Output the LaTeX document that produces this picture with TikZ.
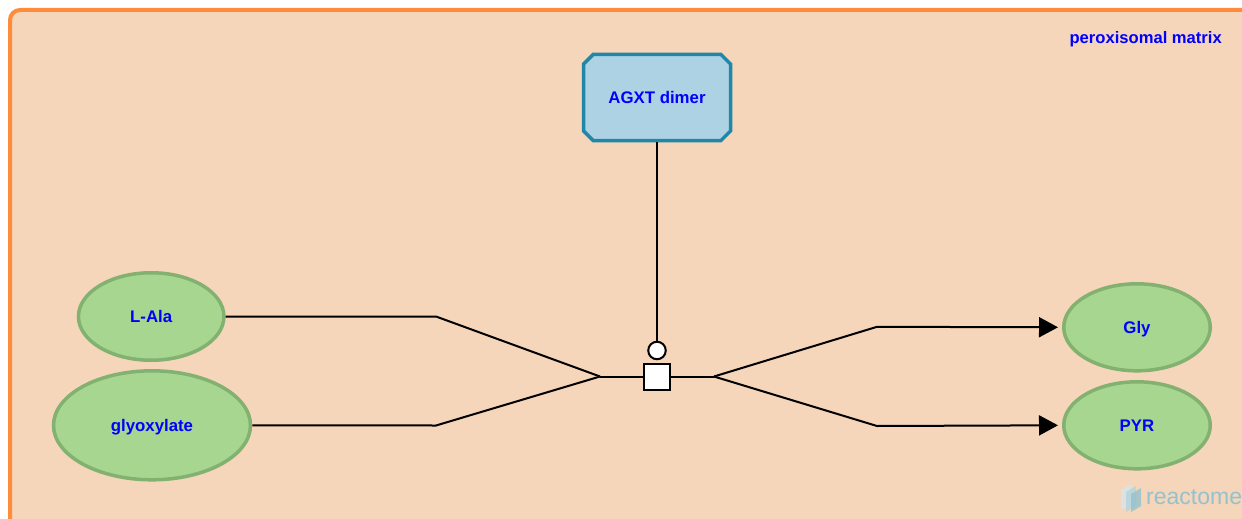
\documentclass[tikz,border=0pt]{standalone}
\usepackage{fontspec}
\setmainfont{Liberation Sans}
\usetikzlibrary{shapes.geometric,shapes.misc,arrows.meta}
\definecolor{compfill}{HTML}{F5D6BA}
\definecolor{compline}{HTML}{FF8C3A}
\definecolor{entfill}{HTML}{A6D690}
\definecolor{entline}{HTML}{82B170}
\definecolor{cxfill}{HTML}{ADD2E4}
\definecolor{cxline}{HTML}{2187A8}
\definecolor{lbl}{HTML}{0000FF}
\definecolor{logotxt}{HTML}{93C2CE}
\begin{document}
\begin{tikzpicture}[x=1pt,y=-1pt,
  lab/.style={font=\fontsize{16.8}{18}\selectfont\bfseries, text=lbl, text height=12pt, text depth=0pt},
  chem/.style={ellipse, draw=entline, fill=entfill, line width=3.5pt, inner sep=0pt, lab},
  cplx/.style={chamfered rectangle, chamfered rectangle xsep=14pt, draw=cxline, fill=cxfill, line width=3.5pt, inner sep=0pt, lab},
  conn/.style={draw=black, line width=2pt},
  prod/.style={conn, -{Triangle[length=19pt,width=20pt]}, shorten >=4pt},
  rxnbox/.style={rectangle, draw=black, fill=white, line width=2pt, minimum size=26pt, inner sep=0pt},
  catcirc/.style={circle, draw=black, fill=white, line width=2pt, minimum size=17.5pt, inner sep=0pt},
  comptitle/.style={lab, anchor=east, inner sep=0pt, font=\fontsize{16.6}{18}\selectfont\bfseries}
]
\useasboundingbox (0,0) rectangle (1242,519);
\clip (0,0) rectangle (1242,519);
\fill[white] (0,0) rectangle (1242,519);
% compartment
\draw[draw=compline, fill=compfill, line width=4pt, rounded corners=10pt] (10,10) rectangle (1265,545);
\node[comptitle] (title) at (1222,37.5) {peroxisomal matrix};

% entities
\node[cplx, minimum width=147pt, minimum height=86pt] (agxt) at (657,97.5) {AGXT dimer};
\node[chem, minimum width=145.5pt, minimum height=87.5pt] (lala) at (151.2,316.5) {L-Ala};
\node[chem, minimum width=197pt, minimum height=109pt] (glyox) at (152,425.3) {glyoxylate};
\node[chem, minimum width=146.5pt, minimum height=87pt] (gly) at (1137,327.3) {Gly};
\node[chem, minimum width=146.5pt, minimum height=87pt] (pyr) at (1137,425.3) {PYR};

% reaction
\node[rxnbox] (rxn) at (657,376.5) {};
\node[catcirc] (cat) at (657,350.5) {};
\coordinate (inbendA) at (436,316.5);
\coordinate (inbendB) at (436,425.5);
\coordinate (inpt) at (600,376.5);
\coordinate (outpt) at (714,376.5);
\coordinate (outbendA) at (877,326.8);
\coordinate (outbendB) at (877,426);

\draw[conn] (lala.east) -- (inbendA) -- (inpt);
\draw[conn] (glyox.east) -- (inbendB) -- (inpt);
\draw[conn] (inpt) -- (rxn.west);
\draw[conn] (rxn.east) -- (outpt);
\draw[prod] (outpt) -- (outbendA) -- (gly.west);
\draw[prod] (outpt) -- (outbendB) -- (pyr.west);
\draw[conn] (agxt.south) -- (cat.north);

% logo
\fill[logotxt!40, opacity=0.8] (1121,490) -- (1131,484) -- (1131,504) -- (1121,510) -- cycle;
\fill[logotxt!70, opacity=0.8] (1126,492) -- (1136,486) -- (1136,506) -- (1126,512) -- cycle;
\fill[logotxt, opacity=0.8] (1131,494) -- (1141,488) -- (1141,506) -- (1131,512) -- cycle;
\node[anchor=base west, inner sep=0pt, text=logotxt, font=\fontsize{23}{24}\selectfont] (logo) at (1146,504) {reactome};
\end{tikzpicture}
\end{document}
